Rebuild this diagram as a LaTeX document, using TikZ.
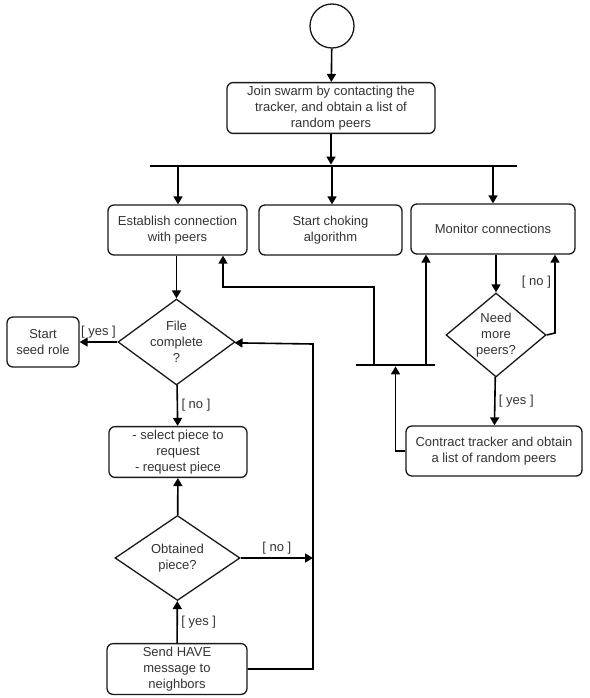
\documentclass[tikz,border=0pt]{standalone}
\usepackage{fontspec}
\setmainfont{Liberation Sans}
\usetikzlibrary{shapes.geometric,arrows.meta}
\begin{document}
\begin{tikzpicture}[x=1pt, y=-1pt,
    font=\fontsize{13}{16}\selectfont,
    box/.style={rectangle, rounded corners=6pt, draw=black!90, line width=1.3pt, align=center, minimum height=50pt, text=black!80},
    cond/.style={diamond, draw=black!90, line width=1.3pt, align=center, inner sep=0pt, text=black!80},
    bar/.style={rectangle, fill=black, inner sep=0pt, minimum height=2.4pt},
    arr/.style={-{Triangle[length=8pt,width=9pt]}, line width=1.6pt},
    lbl/.style={text=black!80},
]
    \useasboundingbox (0,0) rectangle (589,698);

    % Start and join
    \node[circle, draw=black!90, line width=1.3pt, minimum size=44pt] (start) at (332,26) {};
    \node[box, minimum width=208pt] (join) at (331,108) {Join swarm by contacting the\\tracker, and obtain a list of\\random peers};
    \node[bar, minimum width=367pt] (fork) at (333.5,166) {};

    % Three branches
    \node[box, minimum width=139pt] (est) at (177.5,230) {Establish connection\\with peers};
    \node[box, minimum width=143pt] (choke) at (330.5,230) {Start choking\\algorithm};
    \node[box, minimum width=164pt] (mon) at (493,229) {Monitor connections};

    % Download loop
    \node[cond, minimum width=117pt, minimum height=86pt, aspect=1.36] (file) at (176.5,342) {File\\complete\\?};
    \node[box, minimum width=72pt] (seed) at (43,342) {Start\\seed role};
    \node[box, minimum width=138pt] (sel) at (178,452) {- select piece to\\request\\- request piece};
    \node[cond, minimum width=125pt, minimum height=85pt, aspect=1.47] (obt) at (177.5,558) {Obtained\\piece?};
    \node[box, minimum width=140pt] (send) at (177,669) {Send HAVE\\message to\\neighbors};

    % Peer monitoring
    \node[cond, minimum width=100pt, minimum height=84pt, aspect=1.19] (need) at (496,335) {Need\\more\\peers?};
    \node[box, minimum width=176pt] (contract) at (494,451) {Contract tracker and obtain\\a list of random peers};
    \node[bar, minimum width=79pt] (merge) at (395.5,365) {};

    \coordinate (back) at (313,344);
    \coordinate (noturn) at (555,333);
    \coordinate (upest) at (374,364);
    \coordinate (turn) at (223,287);
    \coordinate (upmon) at (426,364);

    % Connectors
    \draw[arr] (start) -- (join);
    \draw[arr] (join) -- (fork.north -| join);
    \draw[arr] (fork.south -| 178,0) -- (est.north -| 178,0);
    \draw[arr] (fork.south -| 332,0) -- (choke.north -| 332,0);
    \draw[arr] (fork.south -| mon) -- (mon);
    \draw[arr] (est.south -| file) -- (file);
    \draw[arr] (file) -- (seed) node[midway, above, lbl] {[ yes ]};
    \draw[arr] (file) -- (sel) node[midway, right, lbl] {[ no ]};
    \draw[arr] (obt) -- (sel);
    \draw[arr] (send) -- (obt) node[midway, right, lbl] {[ yes ]};
    \draw[arr] (obt) -- (obt.east -| back) node[midway, above, lbl] {[ no ]};
    \draw[arr] (send) -| (back) -- (file);
    \draw[arr] (mon.south -| need) -- (need);
    \draw[arr] (need.east) -- (noturn) -- (noturn |- mon.south) node[pos=.65, left, lbl] {[ no ]};
    \draw[arr] (need) -- (contract) node[midway, right, lbl] {[ yes ]};
    \draw[arr] (contract) -| (merge);
    \draw[arr] (upmon) -- (upmon |- mon.south);
    \draw[arr] (upest) |- (turn) -- (turn |- est.south);
\end{tikzpicture}
\end{document}
